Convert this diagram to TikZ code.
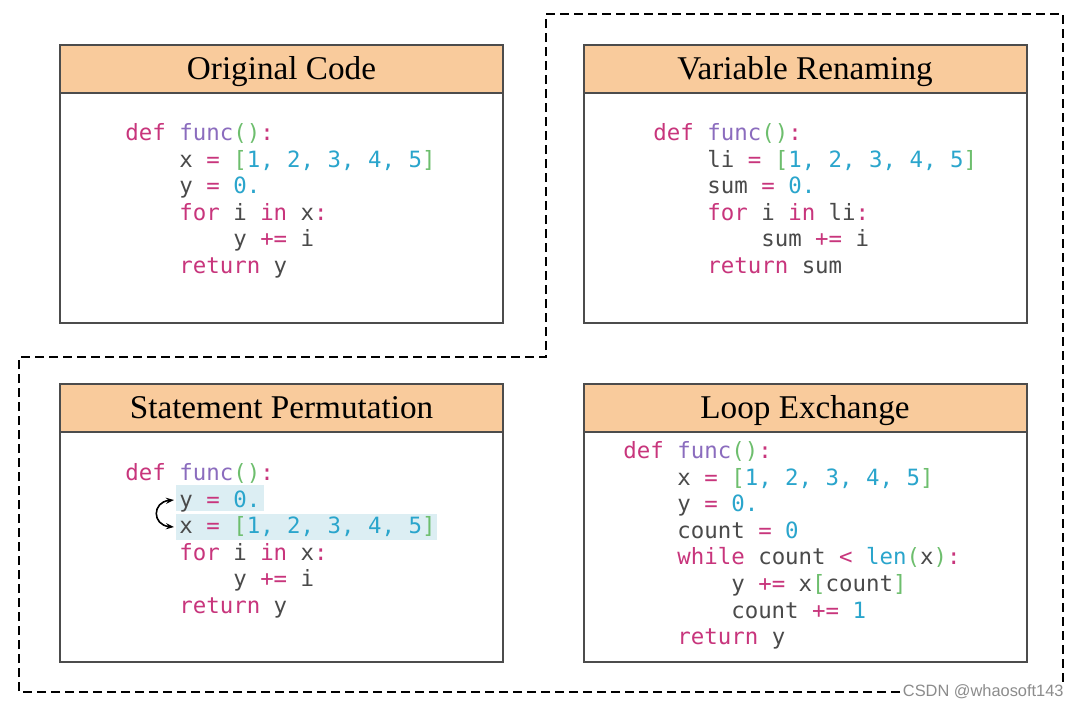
\documentclass[tikz,border=0pt]{standalone}
\usepackage{fontspec}
\setmainfont{Liberation Serif}
\newfontfamily\codefont{DejaVu Sans Mono}
\newfontfamily\markfont{Liberation Sans}
\usetikzlibrary{positioning,arrows.meta}
\definecolor{hpeach}{HTML}{F9CB9C}
\definecolor{hkw}{HTML}{C8357C}
\definecolor{hfn}{HTML}{8B6CBE}
\definecolor{hbr}{HTML}{6DBE6D}
\definecolor{hnum}{HTML}{2AA5CC}
\definecolor{hvar}{HTML}{4A4A4A}
\definecolor{hlight}{HTML}{DCEEF3}
\newcommand{\kw}[1]{\textcolor{hkw}{#1}}
\newcommand{\fn}[1]{\textcolor{hfn}{#1}}
\newcommand{\br}[1]{\textcolor{hbr}{#1}}
\newcommand{\num}[1]{\textcolor{hnum}{#1}}
\newcommand{\vr}[1]{\textcolor{hvar}{#1}}
\newcommand{\codeind}[1]{\hspace*{#1\fontcharwd\font`x}}
\newcommand{\numlist}{\br{[}\num{1, 2, 3, 4, 5}\br{]}}
\newcommand{\funchead}{\kw{def} \fn{func}\br{()}\kw{:}}
\frenchspacing

\begin{document}
\begin{tikzpicture}[x=0.5pt,y=-0.5pt,
    header/.style={draw=black!70, line width=1pt, fill=hpeach, minimum width=221.5pt,
      minimum height=24pt, outer sep=0pt, inner sep=0pt, text depth=1pt,
      font=\fontsize{16.6}{18}\selectfont},
    body/.style={draw=black!70, line width=1pt, fill=white, minimum width=221.5pt,
      minimum height=115pt, outer sep=0pt},
    code/.style={anchor=north west, inner sep=0pt, align=left,
      font=\codefont\fontsize{11.2}{13.3}\selectfont}]
  \useasboundingbox (0,0) rectangle (1081,709);

  % dashed region
  \draw[line width=1.3pt, dash pattern=on 4.5pt off 2.5pt]
    (546,14) -- (1063,14) -- (1063,692) -- (19,692) -- (19,357) -- (546,357) -- cycle;

  % boxes
  \node[header] (orighead) at (281.5,69) {Original Code};
  \node[body, below=0pt of orighead] (origbody) {};
  \node[header] (renamehead) at (805,69) {Variable Renaming};
  \node[body, below=0pt of renamehead] (renamebody) {};
  \node[header] (permhead) at (281.5,408) {Statement Permutation};
  \node[body, below=0pt of permhead] (permbody) {};
  \node[header] (loophead) at (805,408) {Loop Exchange};
  \node[body, below=0pt of loophead] (loopbody) {};

  % highlighted lines
  \fill[hlight] (176,485) rectangle (264,511);
  \fill[hlight] (176,514) rectangle (437,540);

  % code
  \node[code] (origcode) at (125,123) {\funchead\\
    \codeind{4}\vr{x} \kw{=} \numlist\\
    \codeind{4}\vr{y} \kw{=} \num{0.}\\
    \codeind{4}\kw{for} \vr{i} \kw{in} \vr{x}\kw{:}\\
    \codeind{8}\vr{y} \kw{+=} \vr{i}\\
    \codeind{4}\kw{return} \vr{y}};
  \node[code] (renamecode) at (653,123) {\funchead\\
    \codeind{4}\vr{li} \kw{=} \numlist\\
    \codeind{4}\vr{sum} \kw{=} \num{0.}\\
    \codeind{4}\kw{for} \vr{i} \kw{in} \vr{li}\kw{:}\\
    \codeind{8}\vr{sum} \kw{+=} \vr{i}\\
    \codeind{4}\kw{return} \vr{sum}};
  \node[code] (permcode) at (125,463) {\funchead\\
    \codeind{4}\vr{y} \kw{=} \num{0.}\\
    \codeind{4}\vr{x} \kw{=} \numlist\\
    \codeind{4}\kw{for} \vr{i} \kw{in} \vr{x}\kw{:}\\
    \codeind{8}\vr{y} \kw{+=} \vr{i}\\
    \codeind{4}\kw{return} \vr{y}};
  \node[code] (loopcode) at (623,441) {\funchead\\
    \codeind{4}\vr{x} \kw{=} \numlist\\
    \codeind{4}\vr{y} \kw{=} \num{0.}\\
    \codeind{4}\vr{count} \kw{=} \num{0}\\
    \codeind{4}\kw{while} \vr{count} \kw{<} \num{len}\br{(}\vr{x}\br{)}\kw{:}\\
    \codeind{8}\vr{y} \kw{+=} \vr{x}\br{[}\vr{count}\br{]}\\
    \codeind{8}\vr{count} \kw{+=} \num{1}\\
    \codeind{4}\kw{return} \vr{y}};

  % swap arrow
  \coordinate (swapy) at (174,500);
  \coordinate (swapx) at (174,527);
  \draw[{Stealth[length=4pt]}-{Stealth[length=4pt]}, line width=0.8pt]
    (swapy) .. controls (152,502) and (152,525) .. (swapx);

  \node[font=\markfont\fontsize{8.2}{9}\selectfont, text=black!45, fill=white, inner sep=1pt,
    anchor=east] (mark) at (1066,692) {CSDN @whaosoft143};
\end{tikzpicture}
\end{document}
